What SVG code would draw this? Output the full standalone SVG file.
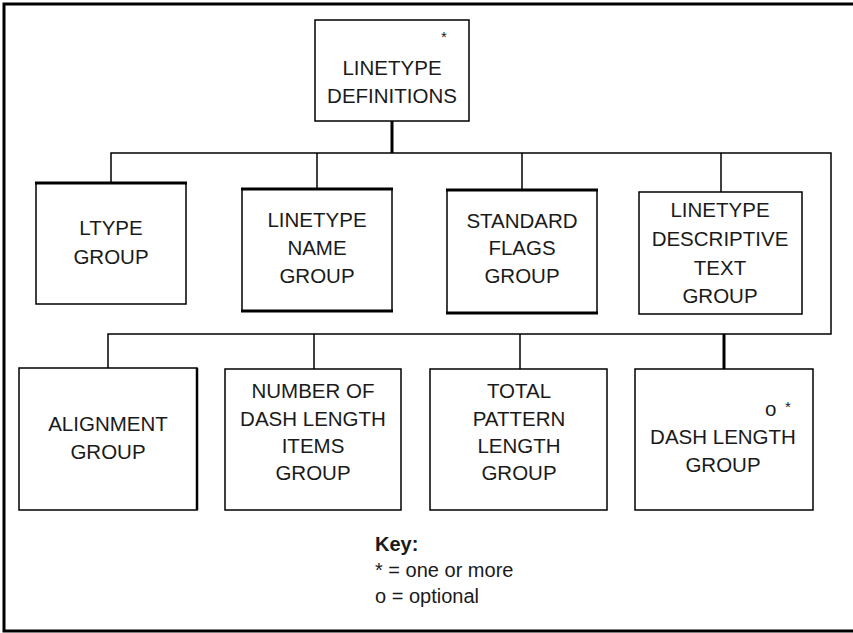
<svg xmlns="http://www.w3.org/2000/svg" width="853" height="633" viewBox="0 0 853 633">
<style>
  .box { fill: #fff; stroke: #000; stroke-width: 1.5; }
  .thick { stroke: #000; stroke-width: 3; fill: none; }
  .conn { stroke: #000; stroke-width: 1.5; fill: none; }
  .conn-thick { stroke: #000; stroke-width: 3; fill: none; }
  text { font-family: "Liberation Sans", Arial, sans-serif; font-size: 20.5px; fill: #1a1a1a; }
  .lbl { text-anchor: middle; }
  .mark { font-size: 15px; }
  .key { font-size: 20px; }
  .keyh { font-size: 20px; font-weight: bold; }
</style>
<rect width="853" height="633" fill="#fff"/>
<path d="M853,4 H4 V631 H853" fill="none" stroke="#000" stroke-width="3"/>

<g id="connectors">
  <line class="conn-thick" x1="392" y1="121" x2="392" y2="153"/>
  <polyline class="conn" points="111,183 111,153 831,153 831,334 108,334 108,368"/>
  <line class="conn" x1="317" y1="153" x2="317" y2="189"/>
  <line class="conn" x1="522" y1="153" x2="522" y2="190"/>
  <line class="conn" x1="721" y1="153" x2="721" y2="192"/>
  <line class="conn" x1="314" y1="334" x2="314" y2="369"/>
  <line class="conn" x1="520" y1="334" x2="520" y2="369"/>
  <line class="conn-thick" x1="724" y1="334" x2="724" y2="369"/>
</g>

<g id="linetype-definitions">
  <rect class="box" x="315" y="20" width="154" height="101"/>
  <text class="mark" x="441" y="42">*</text>
  <text class="lbl" x="392" y="75">LINETYPE</text>
  <text class="lbl" x="392" y="103">DEFINITIONS</text>
</g>

<g id="ltype-group">
  <rect class="box" x="36" y="183" width="150" height="121"/>
  <line class="thick" x1="35" y1="183" x2="187" y2="183"/>
  <text class="lbl" x="111" y="235">LTYPE</text>
  <text class="lbl" x="111" y="264">GROUP</text>
</g>

<g id="linetype-name-group">
  <rect class="box" x="242" y="189" width="150" height="122"/>
  <line class="thick" x1="241" y1="189" x2="393" y2="189"/>
  <line class="thick" x1="241" y1="311" x2="393" y2="311"/>
  <text class="lbl" x="317" y="227">LINETYPE</text>
  <text class="lbl" x="317" y="255">NAME</text>
  <text class="lbl" x="317" y="283">GROUP</text>
</g>

<g id="standard-flags-group">
  <rect class="box" x="447" y="190" width="150" height="123" stroke-width="2.5"/>
  <line class="thick" x1="446" y1="190" x2="598" y2="190"/>
  <line class="thick" x1="446" y1="313" x2="598" y2="313"/>
  <text class="lbl" x="522" y="228">STANDARD</text>
  <text class="lbl" x="522" y="255">FLAGS</text>
  <text class="lbl" x="522" y="283">GROUP</text>
</g>

<g id="linetype-descriptive-text-group">
  <rect class="box" x="639" y="192" width="163" height="122"/>
  <text class="lbl" x="720" y="217">LINETYPE</text>
  <text class="lbl" x="720" y="246">DESCRIPTIVE</text>
  <text class="lbl" x="720" y="275">TEXT</text>
  <text class="lbl" x="720" y="303">GROUP</text>
</g>

<g id="alignment-group">
  <rect class="box" x="19" y="368" width="178" height="142"/>
  <line x1="197" y1="368" x2="197" y2="510" stroke="#000" stroke-width="2.5"/>
  <text class="lbl" x="108" y="431">ALIGNMENT</text>
  <text class="lbl" x="108" y="459">GROUP</text>
</g>

<g id="number-of-dash-length-items-group">
  <rect class="box" x="225" y="369" width="176" height="141"/>
  <text class="lbl" x="313" y="398">NUMBER OF</text>
  <text class="lbl" x="313" y="426">DASH LENGTH</text>
  <text class="lbl" x="313" y="453">ITEMS</text>
  <text class="lbl" x="313" y="480">GROUP</text>
</g>

<g id="total-pattern-length-group">
  <rect class="box" x="430" y="369" width="177" height="141"/>
  <text class="lbl" x="519" y="398">TOTAL</text>
  <text class="lbl" x="519" y="426">PATTERN</text>
  <text class="lbl" x="519" y="453">LENGTH</text>
  <text class="lbl" x="519" y="480">GROUP</text>
</g>

<g id="dash-length-group">
  <rect class="box" x="635" y="369" width="178" height="141"/>
  <text x="765" y="416" font-size="19">o</text>
  <text class="mark" x="785" y="412">*</text>
  <text class="lbl" x="723" y="444">DASH LENGTH</text>
  <text class="lbl" x="723" y="472">GROUP</text>
</g>

<g id="key">
  <text class="keyh" x="375" y="551">Key:</text>
  <text class="key" x="375" y="577">* = one or more</text>
  <text class="key" x="375" y="603">o = optional</text>
</g>
</svg>
